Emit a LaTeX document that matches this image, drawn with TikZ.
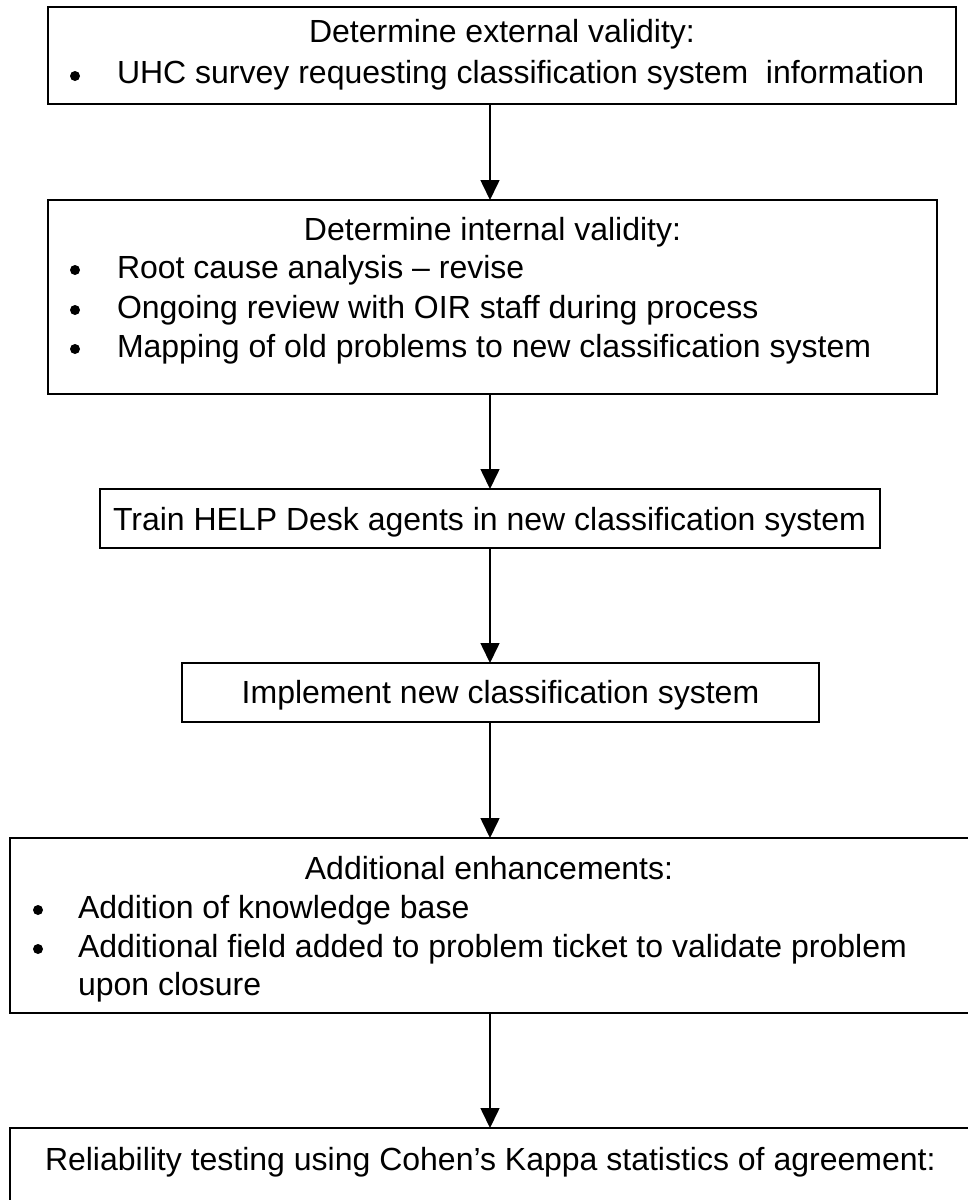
\documentclass[tikz,border=0pt]{standalone}
\usepackage{fontspec}
\setmainfont{Liberation Sans}
\usetikzlibrary{arrows.meta}
\tikzset{
  box/.style={draw, line width=1.6pt, inner sep=0pt, outer sep=0pt},
  txt/.style={inner sep=0pt, outer sep=0pt, font=\fontsize{32}{40}\selectfont},
  title/.style={txt, anchor=base},
  item/.style={txt, anchor=base west},
  dot/.style={fill, circle, inner sep=0pt, outer sep=0pt, minimum size=10pt},
  arr/.style={line width=1.6pt, -{Triangle[width=19pt,length=20pt]}},
}
\begin{document}
\begin{tikzpicture}[x=1pt,y=-1pt]
\useasboundingbox (0,0) rectangle (968,1200);
\fill[white] (0,0) rectangle (968,1200);
\clip (0,0) rectangle (968,1200);
\coordinate (ax) at (490,0);

% Box 1
\node[box, minimum width=908pt, minimum height=97pt] (b1) at (502,55.5) {};
\node[title] (t1) at (502,42) {Determine external validity:};
\node[dot] (d11) at (75,76) {};
\node[item] (t11) at (117,83) {UHC survey requesting classification system\ \ information};

% Box 2
\node[box, minimum width=889pt, minimum height=194pt] (b2) at (492.5,297) {};
\node[title] (t2) at (492.5,240) {Determine internal validity:};
\node[dot] (d21) at (75,270) {};
\node[item] (t21) at (117,278) {Root cause analysis – revise};
\node[dot] (d22) at (75,310) {};
\node[item] (t22) at (117,318) {Ongoing review with OIR staff during process};
\node[dot] (d23) at (75,349) {};
\node[item] (t23) at (117,357) {Mapping of old problems to new classification system};

% Box 3
\node[box, minimum width=780pt, minimum height=59pt] (b3) at (490,518.5) {};
\node[item] (t3) at (113,530) {Train HELP Desk agents in new classification system};

% Box 4
\node[box, minimum width=637pt, minimum height=59pt] (b4) at (500.5,692.5) {};
\node[title] (t4) at (500.5,703) {Implement new classification system};

% Box 5
\node[box, minimum width=962pt, minimum height=175pt] (b5) at (491,925.5) {};
\node[title] (t5) at (489,879) {Additional enhancements:};
\node[dot] (d51) at (38,910) {};
\node[item] (t51) at (78,918) {Addition of knowledge base};
\node[dot] (d52) at (38,949) {};
\node[item] (t52) at (78,957) {Additional field added to problem ticket to validate problem};
\node[item] (t53) at (78,995) {upon closure};

% Box 6
\node[box, minimum width=962pt, minimum height=120pt] (b6) at (491,1188) {};
\node[item] (t6) at (45,1170) {Reliability testing using Cohen’s Kappa statistics of agreement:};

% Connectors
\draw[arr] (b1.south -| ax) -- (b2.north -| ax);
\draw[arr] (b2.south -| ax) -- (b3.north -| ax);
\draw[arr] (b3.south -| ax) -- (b4.north -| ax);
\draw[arr] (b4.south -| ax) -- (b5.north -| ax);
\draw[arr] (b5.south -| ax) -- (b6.north -| ax);
\end{tikzpicture}
\end{document}
